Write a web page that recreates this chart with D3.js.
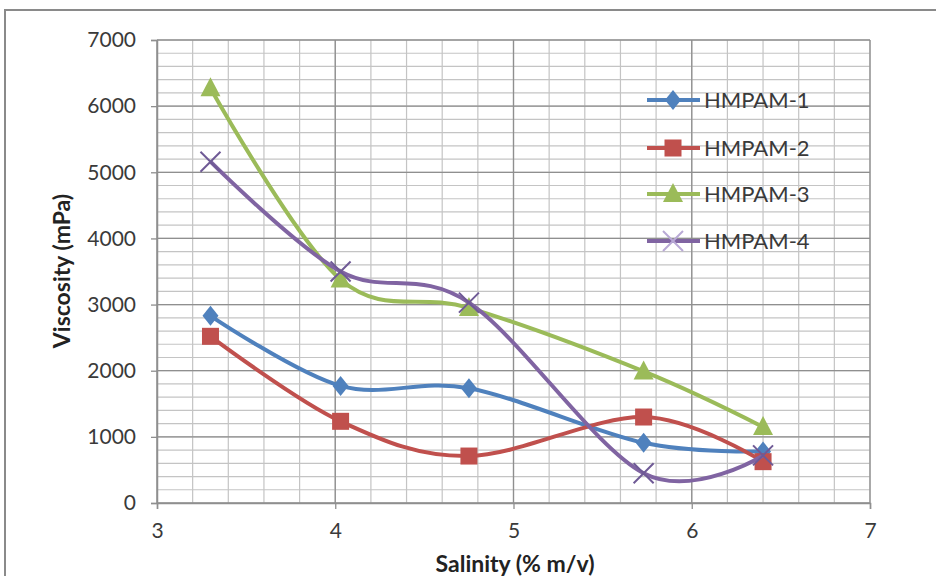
<!DOCTYPE html>
<html>
<head>
<meta charset="utf-8">
<script src="https://cdn.jsdelivr.net/npm/d3@7"></script>
<style>
  html, body { margin: 0; padding: 0; background: #fff; }
  svg { display: block; }
  text { font-family: Lato, "Open Sans", "Liberation Sans", sans-serif; }
</style>
</head>
<body>
<svg id="chart" width="936" height="576"></svg>
<script>
// ---- Data ----
const salinity = [3.3, 4.03, 4.75, 5.73, 6.4];
const seriesNames = ["HMPAM-1", "HMPAM-2", "HMPAM-3", "HMPAM-4"];
const hmpam1 = [2830, 1770, 1735, 910, 780];
const hmpam2 = [2520, 1235, 710, 1300, 625];
const hmpam3 = [6270, 3380, 2950, 1990, 1150];
const hmpam4 = [5160, 3500, 3030, 450, 720];
const xTicks = [3, 4, 5, 6, 7];
const yTicks = [0, 1000, 2000, 3000, 4000, 5000, 6000, 7000];
const xTitle = "Salinity (% m/v)";
const yTitle = "Viscosity (mPa)";

const colors = ["#4F81BD", "#C0504D", "#9BBB59", "#8064A2"];
const markers = ["diamond", "square", "triangle", "cross"];
const allSeries = [hmpam1, hmpam2, hmpam3, hmpam4];

// ---- Layout ----
const svg = d3.select("#chart");
const x = d3.scaleLinear().domain([3, 7]).range([157, 870]);
const y = d3.scaleLinear().domain([0, 7000]).range([503, 40]);

// outer chart border
svg.append("rect")
  .attr("x", 5).attr("y", 10).attr("width", 960).attr("height", 600)
  .attr("fill", "none").attr("stroke", "#8a8a8a").attr("stroke-width", 2);

// gridlines
const grid = svg.append("g");
const minorX = d3.range(3, 7.0001, 0.2);
const minorY = d3.range(0, 7000.1, 200);
grid.selectAll(".mx").data(minorX).join("line")
  .attr("x1", d => x(d)).attr("x2", d => x(d))
  .attr("y1", y(0)).attr("y2", y(7000))
  .attr("stroke", "#c4c4c4").attr("stroke-width", 1.2);
grid.selectAll(".my").data(minorY).join("line")
  .attr("x1", x(3)).attr("x2", x(7))
  .attr("y1", d => y(d)).attr("y2", d => y(d))
  .attr("stroke", "#c4c4c4").attr("stroke-width", 1.2);
grid.selectAll(".Mx").data(xTicks).join("line")
  .attr("x1", d => x(d)).attr("x2", d => x(d))
  .attr("y1", y(0)).attr("y2", y(7000))
  .attr("stroke", "#8f8f8f").attr("stroke-width", 1.3);
grid.selectAll(".My").data(yTicks).join("line")
  .attr("x1", x(3)).attr("x2", x(7))
  .attr("y1", d => y(d)).attr("y2", d => y(d))
  .attr("stroke", "#8f8f8f").attr("stroke-width", 1.3);

// axes
const xAxis = svg.append("g").attr("transform", `translate(0,${y(0)})`)
  .call(d3.axisBottom(x).tickValues(xTicks).tickSize(6).tickPadding(14).tickFormat(d3.format("d")));
const yAxis = svg.append("g").attr("transform", `translate(${x(3)},0)`)
  .call(d3.axisLeft(y).tickValues(yTicks).tickSize(6).tickPadding(15).tickFormat(d3.format("d")));
[xAxis, yAxis].forEach(a => {
  a.select(".domain").attr("stroke", "#8f8f8f").attr("stroke-width", 1.5);
  a.selectAll(".tick line").attr("stroke", "#8f8f8f").attr("stroke-width", 1.3);
  a.selectAll(".tick text").attr("fill", "#3a3a3a").style("font-size", "21px")
    .style("font-family", "Lato, 'Open Sans', sans-serif");
});

// axis titles
svg.append("text")
  .attr("transform", `translate(70,271) rotate(-90)`)
  .attr("text-anchor", "middle")
  .style("font-size", "23px").style("font-weight", "bold").attr("fill", "#222")
  .text(yTitle);
svg.append("text")
  .attr("x", 515).attr("y", 572)
  .attr("text-anchor", "middle")
  .style("font-size", "23px").style("font-weight", "bold").attr("fill", "#222")
  .text(xTitle);

// marker drawing
function drawMarker(g, type, color) {
  if (type === "diamond") {
    g.append("path").attr("d", "M0,-10 L8,0 L0,10 L-8,0 Z").attr("fill", color);
  } else if (type === "square") {
    g.append("rect").attr("x", -8.5).attr("y", -8.5).attr("width", 17).attr("height", 17)
      .attr("fill", color);
  } else if (type === "triangle") {
    g.append("path").attr("d", "M0,-11 L10,8 L-10,8 Z").attr("fill", color);
  } else if (type === "cross") {
    g.append("path").attr("d", "M-10,-10 L10,10 M-10,10 L10,-10")
      .attr("stroke", color).attr("stroke-width", 2).attr("fill", "none");
  }
}

// lines
const line = d3.line()
  .x(d => x(d[0])).y(d => y(d[1]))
  .curve(d3.curveCardinal.tension(0));

allSeries.forEach((vals, i) => {
  const pts = salinity.map((s, j) => [s, vals[j]]);
  svg.append("path").datum(pts)
    .attr("d", line)
    .attr("fill", "none").attr("stroke", colors[i]).attr("stroke-width", 4)
    .attr("stroke-linejoin", "round");
  const mg = svg.append("g");
  pts.forEach(p => {
    const g = mg.append("g").attr("transform", `translate(${x(p[0])},${y(p[1])})`);
    drawMarker(g, markers[i], i === 3 ? "#6f5a96" : colors[i]);
  });
});

// legend
const legendY = [100, 148, 194, 241];
seriesNames.forEach((name, i) => {
  const g = svg.append("g").attr("transform", `translate(0,${legendY[i]})`);
  g.append("line").attr("x1", 647).attr("x2", 700).attr("y1", 0).attr("y2", 0)
    .attr("stroke", colors[i]).attr("stroke-width", 4);
  const m = g.append("g").attr("transform", "translate(673,0)");
  drawMarker(m, markers[i], i === 3 ? "#b9a9d6" : colors[i]);
  g.append("text").attr("x", 704).attr("y", 8)
    .style("font-size", "22px").attr("fill", "#3a3a3a").text(name);
});
</script>
</body>
</html>
